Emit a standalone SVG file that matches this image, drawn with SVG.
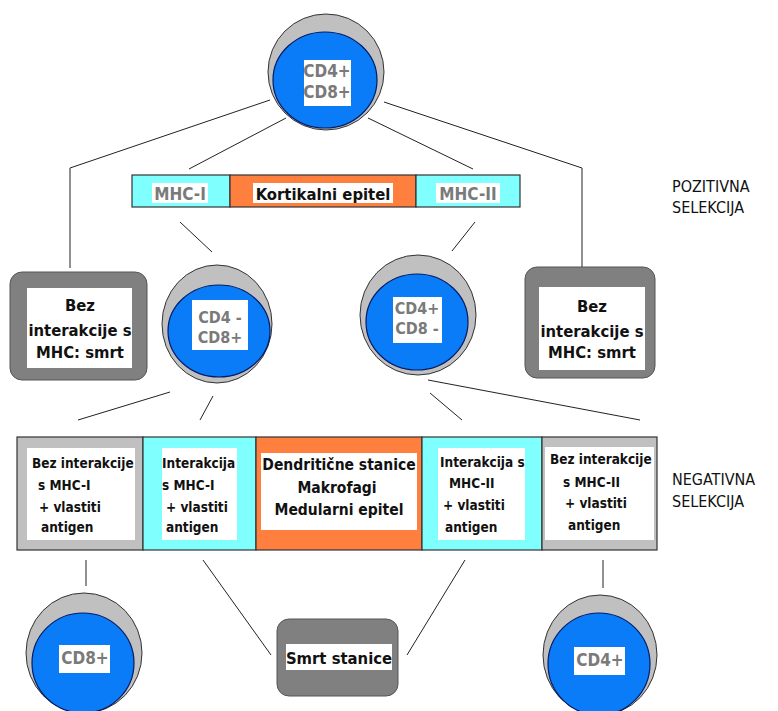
<svg xmlns="http://www.w3.org/2000/svg" width="778" height="711" viewBox="0 0 778 711">
<style>
.outer{fill:#c0c0c0;stroke:#333;stroke-width:1}
.inner{fill:#0a7cf7;stroke:#001a66;stroke-width:1.2}
.wb{fill:#fff}
.cy{fill:#80ffff;stroke:#333;stroke-width:1.2}
.or{fill:#ff7f3f;stroke:#333;stroke-width:1.2}
.lg{fill:#c0c0c0;stroke:#333;stroke-width:1.2}
.dg{fill:#808080;stroke:#555;stroke-width:1}
.gt{font-family:"DejaVu Sans Condensed","DejaVu Sans",sans-serif;font-weight:bold;fill:#7a7a7a;text-anchor:middle}
.bt{font-family:"DejaVu Sans Condensed","DejaVu Sans",sans-serif;font-weight:bold;fill:#111}
.lab{font-family:"DejaVu Sans Condensed","DejaVu Sans",sans-serif;fill:#111;font-size:16px}
.c{text-anchor:middle}
#connectors line,#connectors polyline{stroke:#222;stroke-width:1;fill:none}
</style>
<rect width="778" height="711" fill="#fff"/>
<g id="connectors">
<polyline points="270,100 70,168 70,268"/>
<polyline points="384,102 582,168 582,267"/>
<line x1="286" y1="118" x2="189" y2="169"/>
<line x1="368" y1="118" x2="473" y2="169"/>
<line x1="180" y1="222" x2="212" y2="252"/>
<line x1="475" y1="222" x2="452" y2="251"/>
<line x1="170" y1="392" x2="78" y2="420"/>
<line x1="213" y1="396" x2="200" y2="420"/>
<line x1="428" y1="380" x2="640" y2="420"/>
<line x1="430" y1="393" x2="462" y2="420"/>
<line x1="86" y1="560" x2="86" y2="586"/>
<line x1="603" y1="560" x2="603" y2="588"/>
<line x1="203" y1="560" x2="271" y2="655"/>
<line x1="465" y1="560" x2="407" y2="655"/>
</g>
<g id="cell-top">
<ellipse class="outer" cx="326" cy="72" rx="58" ry="58"/>
<ellipse class="inner" cx="325" cy="80" rx="52" ry="48"/>
<rect class="wb" x="304" y="60" width="47" height="46"/>
<text class="gt" x="327" y="77" font-size="17">CD4+</text>
<text class="gt" x="327" y="98" font-size="17">CD8+</text>
</g>
<g id="bar-positive">
<rect class="cy" x="132" y="175" width="98" height="32"/>
<rect class="or" x="230" y="175" width="186" height="32"/>
<rect class="cy" x="416" y="175" width="104" height="32"/>
<rect class="wb" x="152" y="183" width="56" height="20"/>
<rect class="wb" x="253" y="183" width="140" height="20"/>
<rect class="wb" x="436" y="183" width="64" height="20"/>
<text class="gt" x="180" y="200" font-size="17">MHC-I</text>
<text class="bt c" x="323" y="200" font-size="16.5">Kortikalni epitel</text>
<text class="gt" x="468" y="200" font-size="17">MHC-II</text>
</g>
<g id="death-left">
<rect class="dg" x="10" y="272" width="137" height="108" rx="12"/>
<rect class="wb" x="27" y="288" width="105" height="80"/>
<text class="bt c" x="80" y="311" font-size="16.5">Bez</text>
<text class="bt c" x="80" y="336" font-size="16.5">interakcije s</text>
<text class="bt c" x="80" y="358" font-size="16.5">MHC: smrt</text>
</g>
<g id="death-right">
<rect class="dg" x="525" y="267" width="130" height="111" rx="12"/>
<rect class="wb" x="539" y="287" width="106" height="83"/>
<text class="bt c" x="592" y="312" font-size="16.5">Bez</text>
<text class="bt c" x="592" y="337" font-size="16.5">interakcije s</text>
<text class="bt c" x="592" y="358" font-size="16.5">MHC: smrt</text>
</g>
<g id="cell-cd8">
<ellipse class="outer" cx="217" cy="324" rx="55" ry="59"/>
<ellipse class="inner" cx="219" cy="331" rx="51" ry="46"/>
<rect class="wb" x="192" y="300" width="56" height="50"/>
<text class="gt" x="220" y="323" font-size="16">CD4 -</text>
<text class="gt" x="220" y="343" font-size="16">CD8+</text>
</g>
<g id="cell-cd4">
<ellipse class="outer" cx="418" cy="315" rx="58" ry="60"/>
<ellipse class="inner" cx="417" cy="322" rx="51" ry="48"/>
<rect class="wb" x="393" y="297" width="49" height="46"/>
<text class="gt" x="417" y="314" font-size="16">CD4+</text>
<text class="gt" x="417" y="334" font-size="16">CD8 -</text>
</g>
<g id="bar-negative">
<rect class="lg" x="17" y="437" width="126" height="113"/>
<rect class="cy" x="143" y="437" width="113" height="113"/>
<rect class="or" x="256" y="437" width="166" height="113"/>
<rect class="cy" x="422" y="437" width="120" height="113"/>
<rect class="lg" x="542" y="437" width="115" height="113"/>
<rect class="wb" x="27" y="448" width="108" height="92"/>
<rect class="wb" x="162" y="448" width="75" height="92"/>
<rect class="wb" x="261" y="453" width="156" height="77"/>
<rect class="wb" x="438" y="448" width="87" height="92"/>
<rect class="wb" x="545" y="447" width="109" height="93"/>
<g class="bt" font-size="13.5">
<text x="32" y="468">Bez interakcije</text>
<text x="38" y="490">s MHC-I</text>
<text x="39" y="512">+ vlastiti</text>
<text x="41" y="532">antigen</text>
<text x="162" y="468">Interakcija</text>
<text x="162" y="490">s MHC-I</text>
<text x="166" y="512">+ vlastiti</text>
<text x="166" y="532">antigen</text>
<text x="440" y="467">Interakcija s</text>
<text x="449" y="488">MHC-II</text>
<text x="443" y="510">+ vlastiti</text>
<text x="445" y="532">antigen</text>
<text x="550" y="464">Bez interakcije</text>
<text x="563" y="487">s MHC-II</text>
<text x="565" y="508">+ vlastiti</text>
<text x="568" y="530">antigen</text>
</g>
<g class="bt c" font-size="15.5">
<text x="339" y="470">Dendritične stanice</text>
<text x="337" y="493">Makrofagi</text>
<text x="339" y="515">Medularni epitel</text>
</g>
</g>
<g id="cell-cd8-final">
<ellipse class="outer" cx="84" cy="653" rx="58" ry="60"/>
<ellipse class="inner" cx="83" cy="663" rx="51" ry="50"/>
<rect class="wb" x="59" y="645" width="51" height="28"/>
<text class="gt" x="85" y="664" font-size="17">CD8+</text>
</g>
<g id="cell-death">
<rect class="dg" x="277" y="619" width="121" height="77" rx="12"/>
<rect class="wb" x="286" y="644" width="106" height="26"/>
<text class="bt c" x="339" y="664" font-size="16.5">Smrt stanice</text>
</g>
<g id="cell-cd4-final">
<ellipse class="outer" cx="600" cy="655" rx="57" ry="60"/>
<ellipse class="inner" cx="599" cy="664" rx="51" ry="51"/>
<rect class="wb" x="574" y="647" width="51" height="28"/>
<text class="gt" x="600" y="666" font-size="17">CD4+</text>
</g>
<g id="labels">
<text class="lab" x="672" y="192">POZITIVNA</text>
<text class="lab" x="672" y="213">SELEKCIJA</text>
<text class="lab" x="672" y="485">NEGATIVNA</text>
<text class="lab" x="672" y="507">SELEKCIJA</text>
</g>
</svg>
